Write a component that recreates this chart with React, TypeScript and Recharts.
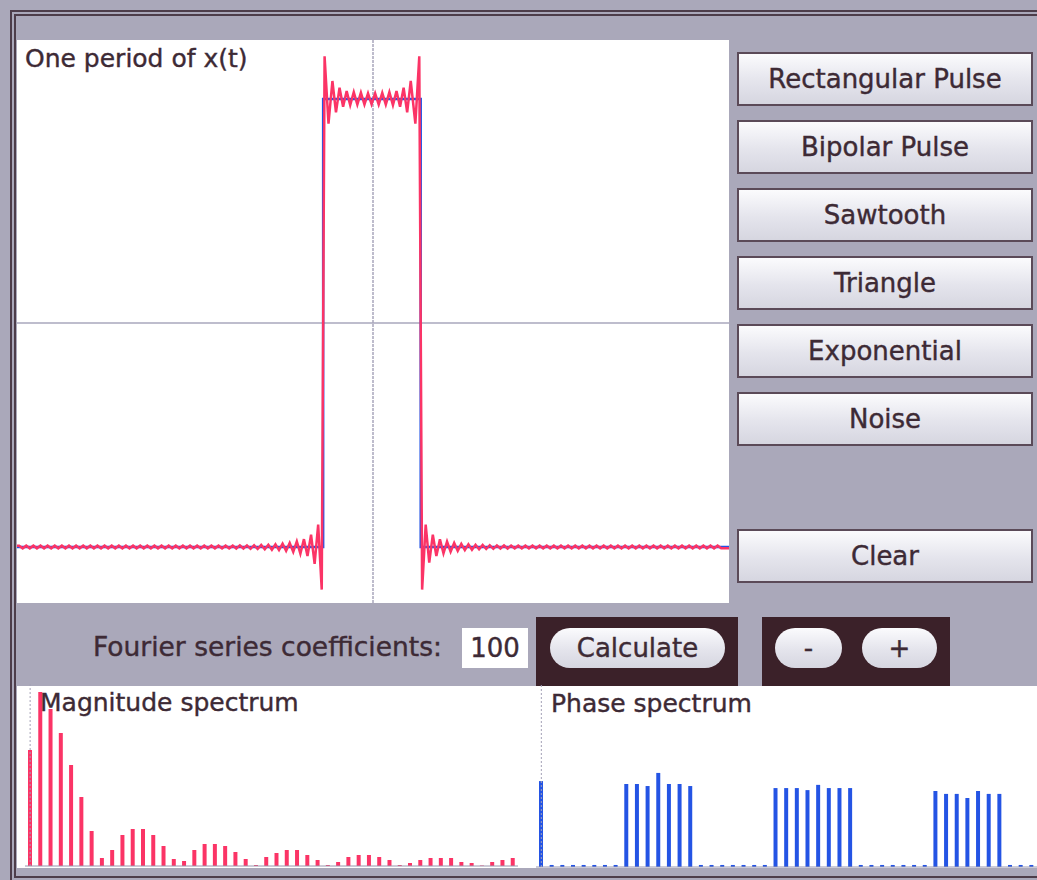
import React from "react";
import { LineChart, Line, XAxis, YAxis, ReferenceLine, BarChart, Bar } from "recharts";

// one period, t in [-1, 1]
const pulseStart = -0.14;
const pulseEnd = 0.134;

// ideal rectangular pulse (blue)
const idealT = [-1, pulseStart, pulseStart, pulseEnd, pulseEnd, 1];
const idealX = [-1, -1, 1, 1, -1, -1];

// 100-coefficient reconstruction (red), ripple extrema read every 0.01
// left tail: going outward from the left edge
const leftTail = [
  -1.19, -0.9, -1.075, -0.945, -1.04, -0.965, -1.03, -0.975, -1.022, -0.982,
  -1.017, -0.985, -1.014, -0.988, -1.012, -0.99, -1.01, -0.991, -1.009, -0.992,
  -1.008, -0.993, -1.007, -0.993, -1.007, -0.994, -1.006, -0.994, -1.006, -0.994,
  -1.006, -0.994, -1.006, -0.994, -1.006, -0.994, -1.006, -0.994, -1.006, -0.994,
  -1.006, -0.994, -1.006, -0.994, -1.006, -0.994, -1.006, -0.994, -1.006, -0.994,
  -1.006, -0.994, -1.006, -0.994, -1.006, -0.994, -1.006, -0.994, -1.006, -0.994,
  -1.006, -0.994, -1.006, -0.994, -1.006, -0.994, -1.006, -0.994, -1.006, -0.994,
  -1.006, -0.994, -1.006, -0.994, -1.006, -0.994, -1.006, -0.994, -1.006, -0.994,
  -1.006, -0.994, -1.006, -0.994, -1.006, -0.994,
];
// top of the pulse, left edge to right edge
const topT = [
  -0.136, -0.125, -0.114, -0.104, -0.094, -0.084, -0.074, -0.064, -0.054,
  -0.044, -0.034, -0.024, -0.014, -0.004, 0.006, 0.016, 0.026, 0.036, 0.046,
  0.056, 0.066, 0.076, 0.086, 0.096, 0.106, 0.119, 0.13,
];
const topX = [
  1.19, 0.89, 1.08, 0.94, 1.05, 0.965, 1.035, 0.972, 1.03, 0.975, 1.028, 0.975,
  1.025, 0.976, 1.025, 0.975, 1.027, 0.975, 1.03, 0.972, 1.035, 0.965, 1.05,
  0.94, 1.08, 0.89, 1.19,
];
// right tail: going outward from the right edge
const rightTail = [
  -1.19, -0.9, -1.07, -0.945, -1.04, -0.966, -1.028, -0.976, -1.021, -0.982,
  -1.017, -0.986, -1.014, -0.988, -1.012, -0.99, -1.01, -0.991, -1.009, -0.992,
  -1.008, -0.993, -1.007, -0.993, -1.007, -0.994, -1.006, -0.994, -1.006, -0.994,
  -1.006, -0.994, -1.006, -0.994, -1.006, -0.994, -1.006, -0.994, -1.006, -0.994,
  -1.006, -0.994, -1.006, -0.994, -1.006, -0.994, -1.006, -0.994, -1.006, -0.994,
  -1.006, -0.994, -1.006, -0.994, -1.006, -0.994, -1.006, -0.994, -1.006, -0.994,
  -1.006, -0.994, -1.006, -0.994, -1.006, -0.994, -1.006, -0.994, -1.006, -0.994,
  -1.006, -0.994, -1.006, -0.994, -1.006, -0.994, -1.006, -0.994, -1.006, -0.994,
  -1.006, -0.994, -1.006, -0.994, -1.006,
];

const magnitude = [
  1.16, 1.74, 1.57, 1.33, 1.01, 0.69, 0.35, 0.08, 0.16, 0.31, 0.37, 0.37, 0.31,
  0.2, 0.07, 0.05, 0.16, 0.22, 0.22, 0.2, 0.14, 0.07, 0.01, 0.09, 0.13, 0.16,
  0.16, 0.11, 0.06, 0.01, 0.04, 0.09, 0.11, 0.11, 0.09, 0.06, 0.01, 0.03, 0.06,
  0.08, 0.08, 0.08, 0.04, 0.03, 0.005, 0.04, 0.06, 0.08,
];

const phase = [
  2.95, 0.07, 0.07, 0.07, 0.07, 0.07, 0.07, 0.07,
  2.85, 2.85, 2.78, 3.23, 2.85, 2.85, 2.78,
  0.07, 0.07, 0.07, 0.07, 0.07, 0.07, 0.07,
  2.71, 2.71, 2.71, 2.64, 2.82, 2.71, 2.71, 2.71,
  0.07, 0.07, 0.07, 0.07, 0.07, 0.07, 0.07,
  2.61, 2.51, 2.51, 2.37, 2.61, 2.51, 2.51,
  0.07, 0.07, 0.07,
];

const sideButtons = ["Rectangular Pulse", "Bipolar Pulse", "Sawtooth", "Triangle", "Exponential", "Noise"];

const RED = "#fb3466";
const BLUE = "#2454e4";
const INK = "#3d2a35";
const FONT = "'DejaVu Sans', Verdana, sans-serif";

const idealData = idealT.map((t, i) => ({ t, x: idealX[i] }));
const approxData = [
  { t: -1, x: leftTail[leftTail.length - 1] },
  ...leftTail.map((x, i) => ({ t: pulseStart - 0.004 - 0.01 * i, x })).reverse(),
  ...topT.map((t, i) => ({ t, x: topX[i] })),
  ...rightTail.map((x, i) => ({ t: pulseEnd + 0.004 + 0.01 * i, x })),
  { t: 1, x: rightTail[rightTail.length - 1] },
];
const magData = magnitude.map((m, k) => ({ k, m }));
const phaseData = phase.map((p, k) => ({ k, p }));

const buttonFace = "linear-gradient(#fbfbfd, #e4e4ec 55%, #d6d6e0)";

function SideButton({ label, top }: { label: string; top: number }) {
  return (
    <div
      style={{
        position: "absolute", left: 737, top, width: 292, height: 50,
        border: "2px solid #5b4a58", background: buttonFace,
        display: "flex", alignItems: "center", justifyContent: "center",
        fontSize: 26, color: INK, fontFamily: FONT,
      }}
    >
      {label}
    </div>
  );
}

function Pill({ label, left, width }: { label: string; left: number; width: number }) {
  return (
    <div
      style={{
        position: "absolute", left, top: 628, width, height: 40, borderRadius: 20,
        background: buttonFace, display: "flex", alignItems: "center",
        justifyContent: "center", fontSize: 26, color: INK, fontFamily: FONT,
      }}
    >
      {label}
    </div>
  );
}

export default function App() {
  return (
    <div
      style={{
        position: "absolute", left: 0, top: 0, width: 1037, height: 880,
        overflow: "hidden", background: "#aaa8ba", fontFamily: FONT,
        WebkitTextStroke: "0.4px #3d2a35",
      }}
    >
      {/* frame */}
      <div
        style={{
          position: "absolute", left: 10, top: 10, width: 1060, height: 860,
          border: "6px double #4d3d4a",
        }}
      />

      {/* time domain plot */}
      <div style={{ position: "absolute", left: 17, top: 40, width: 712, height: 563, background: "#fff" }}>
        <LineChart width={712} height={563} margin={{ top: 0, right: 0, bottom: 0, left: 0 }}>
          <XAxis type="number" dataKey="t" domain={[-1, 1]} hide allowDataOverflow />
          <YAxis type="number" domain={[-1.25, 1.263]} hide allowDataOverflow />
          <ReferenceLine x={0} stroke="#a9a7bc" strokeWidth={1.5} strokeDasharray="3 1" />
          <ReferenceLine y={0} stroke="#a9a7bc" strokeWidth={1.5} />
          <Line data={idealData} dataKey="x" type="linear" stroke={BLUE} strokeWidth={2.5} dot={false} isAnimationActive={false} />
          <Line data={approxData} dataKey="x" type="linear" stroke={RED} strokeWidth={2.5} dot={false} isAnimationActive={false} />
        </LineChart>
        <div style={{ position: "absolute", left: 8, top: 4, fontSize: 25, color: INK }}>One period of x(t)</div>
      </div>

      {sideButtons.map((b, i) => (
        <SideButton key={b} label={b} top={52 + i * 68} />
      ))}
      <SideButton label="Clear" top={529} />

      {/* controls */}
      <div style={{ position: "absolute", left: 93, top: 631, fontSize: 26.5, color: INK }}>Fourier series coefficients:</div>
      <div
        style={{
          position: "absolute", left: 462, top: 628, width: 66, height: 40, background: "#fff",
          display: "flex", alignItems: "center", justifyContent: "center", fontSize: 26, color: INK,
        }}
      >
        100
      </div>
      <div style={{ position: "absolute", left: 536, top: 617, width: 202, height: 69, background: "#3b2129" }} />
      <div style={{ position: "absolute", left: 762, top: 617, width: 188, height: 69, background: "#3b2129" }} />
      <Pill label="Calculate" left={550} width={175} />
      <Pill label="-" left={775} width={67} />
      <Pill label="+" left={862} width={75} />

      {/* spectra */}
      <div style={{ position: "absolute", left: 17, top: 686, width: 1020, height: 182, background: "#fff" }} />
      <div style={{ position: "absolute", left: 17, top: 684 }}>
        <BarChart width={520} height={184} data={magData} margin={{ top: 0, right: 19, bottom: 0, left: 8 }} barCategoryGap={0}>
          <XAxis dataKey="k" tick={false} tickLine={false} height={2} axisLine={{ stroke: "#9896ad" }} />
          <YAxis domain={[0, 1.82]} hide allowDataOverflow />
          <ReferenceLine x={0} stroke="#a3a1b6" strokeDasharray="2 2" />
          <Bar dataKey="m" fill={RED} barSize={4} isAnimationActive={false} />
        </BarChart>
      </div>
      <div style={{ position: "absolute", left: 536, top: 684 }}>
        <BarChart width={501} height={184} data={phaseData} margin={{ top: 0, right: 0, bottom: 0, left: 0 }} barCategoryGap={0}>
          <XAxis dataKey="k" tick={false} tickLine={false} height={1} axisLine={{ stroke: "#9896ad" }} />
          <YAxis domain={[0, 2 * Math.PI]} hide allowDataOverflow />
          <ReferenceLine x={0} stroke="#a3a1b6" strokeDasharray="2 2" />
          <Bar dataKey="p" fill={BLUE} barSize={4} isAnimationActive={false} />
        </BarChart>
      </div>
      <div style={{ position: "absolute", left: 40, top: 688, fontSize: 25, color: INK }}>Magnitude spectrum</div>
      <div style={{ position: "absolute", left: 551, top: 689, fontSize: 25, color: INK }}>Phase spectrum</div>
    </div>
  );
}
